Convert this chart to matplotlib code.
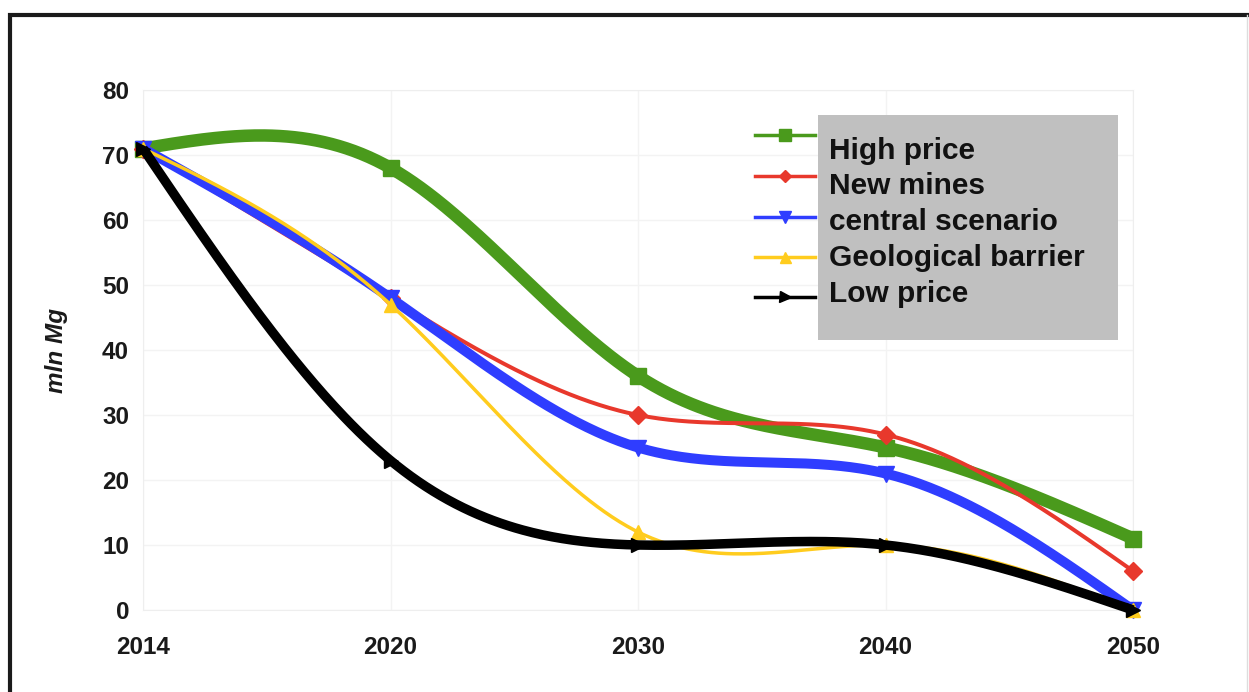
import numpy as np
import matplotlib
matplotlib.use("Agg")
import matplotlib.pyplot as plt
from matplotlib.lines import Line2D
from matplotlib.patches import Rectangle

plt.rcParams['font.family'] = ['Liberation Sans', 'DejaVu Sans']

years = ['2014', '2020', '2030', '2040', '2050']
high_price = [71, 68, 36, 25, 11]
new_mines = [71, 48, 30, 27, 6]
central = [71, 48, 25, 21, 0]
geo_barrier = [71, 47, 12, 10, 0]
low_price = [71, 23, 10, 10, 0]

series = [
    ('High price', high_price, '#4a9a1c', 12.5, 's', 12),
    ('New mines', new_mines, '#e8382c', 4.0, 'D', 9),
    ('central scenario', central, '#2f3dff', 10.0, 'v', 12),
    ('Geological barrier', geo_barrier, '#ffcc1e', 3.5, '^', 11),
    ('Low price', low_price, '#000000', 9.5, '>', 11),
]

W, H, DPI = 1249, 692, 100


def natural_spline(y, n=400):
    """Natural cubic spline through equally spaced category points."""
    y = np.asarray(y, dtype=float)
    k = len(y)
    A = np.zeros((k, k))
    r = np.zeros(k)
    A[0, 0] = A[-1, -1] = 1
    for i in range(1, k - 1):
        A[i, i - 1:i + 2] = [1, 4, 1]
        r[i] = 6 * (y[i + 1] - 2 * y[i] + y[i - 1])
    M = np.linalg.solve(A, r)
    xs = np.linspace(0, k - 1, n)
    idx = np.minimum(xs.astype(int), k - 2)
    t = xs - idx
    a, b = M[idx], M[idx + 1]
    ys = ((1 - t) * y[idx] + t * y[idx + 1]
          + ((1 - t) ** 3 - (1 - t)) * a / 6 + (t ** 3 - t) * b / 6)
    return xs, ys


fig = plt.figure(figsize=(W / DPI, H / DPI), dpi=DPI)
ax = fig.add_axes([143 / W, 1 - 610 / H, (1133 - 143) / W, (610 - 90) / H])

x = np.arange(len(years))
for z, (name, vals, col, lw, mk, ms) in enumerate(series):
    xs, ys = natural_spline(vals)
    ax.plot(xs, ys, color=col, lw=lw * 0.72, solid_capstyle='butt',
            clip_on=False, zorder=3 + z)
    ax.plot(x, vals, ls='none', marker=mk, ms=ms * 0.72 + 2.5, color=col,
            mec=col, clip_on=False, zorder=3 + z)

ax.set_xlim(0, 4)
ax.set_ylim(0, 80)
ax.set_xticks(x)
ax.set_xticklabels(years)
ax.set_yticks(range(0, 81, 10))
ax.tick_params(length=0, labelsize=17.5, pad=10, labelcolor='#1a1a1a')
ax.tick_params(axis='x', pad=19)
for lab in ax.get_xticklabels() + ax.get_yticklabels():
    lab.set_fontweight('bold')
ax.grid(True, color='#f3f3f3', lw=1)
ax.set_axisbelow(True)
for sp in ax.spines.values():
    sp.set_color('#eeeeee')
ax.set_ylabel('mln Mg', fontsize=17.5, fontweight='bold', style='italic',
              color='#1a1a1a')
ax.yaxis.set_label_coords(-(143 - 56) / (1133 - 143), 0.5)
ax.yaxis.label.set_va('center')


def px(xp, yp):
    return xp / W, 1 - yp / H


# legend: gray text box with handles sitting to its left
fig.patches.append(Rectangle(px(818, 340), 300 / W, 225 / H,
                             transform=fig.transFigure, facecolor='#c0c0c0',
                             edgecolor='none', zorder=1))
handle_y = [135, 176, 217, 257, 297]
text_y = [151, 186, 222, 258, 294]
for (name, vals, col, lw, mk, ms), hy, ty in zip(series, handle_y, text_y):
    x0, y0 = px(755, hy)
    x1, _ = px(815, hy)
    fig.add_artist(Line2D([x0, x1], [y0, y0], color=col, lw=2.5,
                          transform=fig.transFigure, zorder=2))
    fig.add_artist(Line2D([(x0 + x1) / 2], [y0], color=col, marker=mk,
                          ms=ms * 0.72, ls='none',
                          transform=fig.transFigure, zorder=2))
    tx, tyf = px(829, ty)
    fig.text(tx, tyf, name, fontsize=21.5, fontweight='bold', color='#111111',
             va='center', ha='left', zorder=3)

# outer frame
fig.patches.append(Rectangle(px(10, 760), 1300 / W, (760 - 15) / H,
                             transform=fig.transFigure, facecolor='none',
                             edgecolor='#1a1a1a', lw=3, zorder=0))
fig.add_artist(Line2D([1247 / W, 1247 / W], [0, 1 - 15 / H],
                      color='#dddddd', lw=1, transform=fig.transFigure))

fig.savefig('out.png', dpi=DPI)
